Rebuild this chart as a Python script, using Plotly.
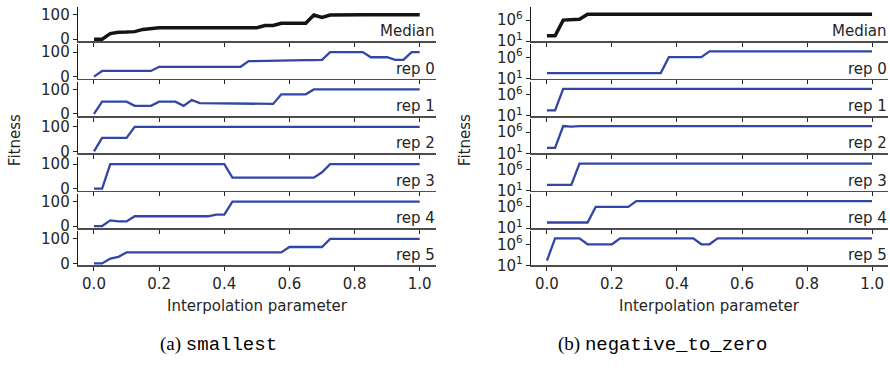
import plotly.graph_objects as go

# ---------------- data ----------------
interp = [0.0, 0.025, 0.05, 0.075, 0.1, 0.125, 0.15, 0.175, 0.2, 0.225,
          0.25, 0.275, 0.3, 0.325, 0.35, 0.375, 0.4, 0.425, 0.45, 0.475,
          0.5, 0.525, 0.55, 0.575, 0.6, 0.625, 0.65, 0.675, 0.7, 0.725,
          0.75, 0.775, 0.8, 0.825, 0.85, 0.875, 0.9, 0.925, 0.95, 0.975, 1.0]

panel_labels = ["Median", "rep 0", "rep 1", "rep 2", "rep 3", "rep 4", "rep 5"]

# (a) smallest  -- linear fitness
a_median = [0, 0, 23, 28, 29, 31, 40, 44, 47, 47, 47, 47, 47, 47, 47, 47, 47, 47, 47, 47,
            47, 56, 56, 65, 65, 65, 65, 99, 89, 99, 100, 100, 100, 100, 100, 100, 100, 100, 100, 100, 100]
a_rep0 = [0, 23, 23, 23, 23, 23, 23, 23, 40, 40, 40, 40, 40, 40, 40, 40, 40, 40, 40, 63,
          64, 64, 65, 65, 66, 66, 67, 67, 68, 100, 100, 100, 100, 100, 79, 79, 79, 68, 68, 100, 100]
a_rep1 = [0, 50, 50, 50, 50, 33, 33, 33, 50, 50, 50, 33, 57, 44, 44, 44, 43, 43, 43, 43,
          42, 42, 41, 80, 80, 80, 80, 100, 100, 100, 100, 100, 100, 100, 100, 100, 100, 100, 100, 100, 100]
a_rep2 = [0, 55, 55, 55, 55, 100, 100, 100, 100, 100, 100, 100, 100, 100, 100, 100, 100, 100, 100, 100,
          100, 100, 100, 100, 100, 100, 100, 100, 100, 100, 100, 100, 100, 100, 100, 100, 100, 100, 100, 100, 100]
a_rep3 = [0, 0, 100, 100, 100, 100, 100, 100, 100, 100, 100, 100, 100, 100, 100, 100, 100, 45, 45, 45,
          45, 45, 45, 45, 45, 45, 45, 45, 67, 100, 100, 100, 100, 100, 100, 100, 100, 100, 100, 100, 100]
a_rep4 = [0, 0, 23, 19, 19, 40, 40, 40, 40, 40, 40, 40, 40, 40, 40, 47, 47, 100, 100, 100,
          100, 100, 100, 100, 100, 100, 100, 100, 100, 100, 100, 100, 100, 100, 100, 100, 100, 100, 100, 100, 100]
a_rep5 = [0, 0, 20, 27, 45, 45, 45, 45, 45, 45, 45, 45, 45, 45, 45, 45, 45, 45, 45, 45,
          45, 45, 45, 45, 67, 67, 67, 67, 67, 100, 100, 100, 100, 100, 100, 100, 100, 100, 100, 100, 100]

# (b) negative_to_zero -- log fitness
b_median = [200, 200, 1e6, 1e6, 1.6e6, 2.5e7, 2.5e7, 2.5e7, 2.5e7, 2.5e7, 2.5e7, 2.5e7, 2.5e7, 2.5e7,
            2.5e7, 2.5e7, 2.5e7, 2.5e7, 2.5e7, 2.5e7, 2.5e7, 2.5e7, 2.5e7, 2.5e7, 2.5e7, 2.5e7, 2.5e7,
            2.5e7, 2.5e7, 2.5e7, 2.5e7, 2.5e7, 2.5e7, 2.5e7, 2.5e7, 2.5e7, 2.5e7, 2.5e7, 2.5e7, 2.5e7, 2.5e7]
b_rep0 = [200, 200, 200, 200, 200, 200, 200, 200, 200, 200, 200, 200, 200, 200, 200,
          1.2e6, 1.2e6, 1.2e6, 1.2e6, 1.2e6,
          2.9e7, 2.9e7, 2.9e7, 2.9e7, 2.9e7, 2.9e7, 2.9e7, 2.9e7, 2.9e7, 2.9e7, 2.9e7, 2.9e7, 2.9e7,
          2.9e7, 2.9e7, 2.9e7, 2.9e7, 2.9e7, 2.9e7, 2.9e7, 2.9e7]
b_rep1 = [200, 200, 2.5e7, 2.5e7, 2.5e7, 2.5e7, 2.5e7, 2.5e7, 2.5e7, 2.5e7, 2.5e7, 2.5e7, 2.5e7,
          2.5e7, 2.5e7, 2.5e7, 2.5e7, 2.5e7, 2.5e7, 2.5e7, 2.5e7, 2.5e7, 2.5e7, 2.5e7, 2.5e7, 2.5e7,
          2.5e7, 2.5e7, 2.5e7, 2.5e7, 2.5e7, 2.5e7, 2.5e7, 2.5e7, 2.5e7, 2.5e7, 2.5e7, 2.5e7, 2.5e7, 2.5e7, 2.5e7]
b_rep2 = [200, 200, 3e7, 2.2e7, 2.8e7, 2.8e7, 2.8e7, 2.8e7, 2.8e7, 2.8e7, 2.8e7, 2.8e7, 2.8e7,
          2.8e7, 2.8e7, 2.8e7, 2.8e7, 2.8e7, 2.8e7, 2.8e7, 2.8e7, 2.8e7, 2.8e7, 2.8e7, 2.8e7, 2.8e7,
          2.8e7, 2.8e7, 2.8e7, 2.8e7, 2.8e7, 2.8e7, 2.8e7, 2.8e7, 2.8e7, 2.8e7, 2.8e7, 2.8e7, 2.8e7, 2.8e7, 2.8e7]
b_rep3 = [240, 240, 240, 240, 2.5e7, 2.5e7, 2.5e7, 2.5e7, 2.5e7, 2.5e7, 2.5e7, 2.5e7, 2.5e7,
          2.5e7, 2.5e7, 2.5e7, 2.5e7, 2.5e7, 2.5e7, 2.5e7, 2.5e7, 2.5e7, 2.5e7, 2.5e7, 2.5e7, 2.5e7,
          2.5e7, 2.5e7, 2.5e7, 2.5e7, 2.5e7, 2.5e7, 2.5e7, 2.5e7, 2.5e7, 2.5e7, 2.5e7, 2.5e7, 2.5e7, 2.5e7, 2.5e7]
b_rep4 = [200, 200, 200, 200, 200, 200, 1e6, 1e6, 1e6, 1e6, 1e6,
          2.4e7, 2.4e7, 2.4e7, 2.4e7, 2.4e7, 2.4e7, 2.4e7, 2.4e7, 2.4e7, 2.4e7, 2.4e7, 2.4e7, 2.4e7,
          2.4e7, 2.4e7, 2.4e7, 2.4e7, 2.4e7, 2.4e7, 2.4e7, 2.4e7, 2.4e7, 2.4e7, 2.4e7, 2.4e7, 2.4e7,
          2.4e7, 2.4e7, 2.4e7, 2.4e7]
b_rep5 = [140, 2.5e7, 2.5e7, 2.5e7, 2.5e7, 1e6, 1e6, 1e6, 1e6,
          2.5e7, 2.5e7, 2.5e7, 2.5e7, 2.5e7, 2.5e7, 2.5e7, 2.5e7, 2.5e7, 2.5e7, 1e6, 1e6,
          2.5e7, 2.5e7, 2.5e7, 2.5e7, 2.5e7, 2.5e7, 2.5e7, 2.5e7, 2.5e7, 2.5e7, 2.5e7, 2.5e7, 2.5e7,
          2.5e7, 2.5e7, 2.5e7, 2.5e7, 2.5e7, 2.5e7, 2.5e7]

x_ticks = [0.0, 0.2, 0.4, 0.6, 0.8, 1.0]
x_ticktext = ["0.0", "0.2", "0.4", "0.6", "0.8", "1.0"]
a_yticks = [0, 100]
b_yticks = [10, 1e6]
b_yticktext = ["10<sup>1</sup>", "10<sup>6</sup>"]

series_a = [a_median, a_rep0, a_rep1, a_rep2, a_rep3, a_rep4, a_rep5]
series_b = [b_median, b_rep0, b_rep1, b_rep2, b_rep3, b_rep4, b_rep5]

# ---------------- layout geometry ----------------
W, H = 890, 371
FONT = "DejaVu Sans"
FS = 15
TXT = "#262626"
MEDIAN_COLOR = "#141414"
REP_COLOR = "#3346a6"

col_px = [(77.7, 436.0), (530.7, 888.3)]
row_bottom0, row_step, row_h = 41.3, 38.4, 35.0

fig = go.Figure()
layout = dict(
    width=W, height=H, autosize=False,
    margin=dict(l=0, r=0, t=0, b=0),
    paper_bgcolor="white", plot_bgcolor="white",
    showlegend=False, hovermode=False,
    font=dict(family=FONT, size=FS, color=TXT),
)
annotations = []

for c, (series, is_log) in enumerate([(series_a, False), (series_b, True)]):
    x0, x1 = col_px[c]
    for r in range(7):
        k = c * 7 + r + 1
        xn = "x" if k == 1 else f"x{k}"
        yn = "y" if k == 1 else f"y{k}"
        bot = row_bottom0 + row_step * r
        top = bot - row_h
        fig.add_trace(go.Scatter(
            x=interp, y=series[r], mode="lines",
            line=dict(color=MEDIAN_COLOR if r == 0 else REP_COLOR,
                      width=3.5 if r == 0 else 2.3),
            xaxis=xn, yaxis=yn, hoverinfo="skip",
        ))
        last = (r == 6)
        layout[f"xaxis{'' if k == 1 else k}"] = dict(
            domain=[x0 / W, x1 / W], anchor=yn, range=[-0.05, 1.05],
            showgrid=False, zeroline=False,
            showline=True, linecolor="#4d4d4d", linewidth=1.6,
            ticks="outside", ticklen=4, tickwidth=1, tickcolor="#262626",
            tickvals=x_ticks, ticktext=x_ticktext,
            showticklabels=last, fixedrange=True,
            tickfont=dict(family=FONT, size=FS, color=TXT),
        )
        ycfg = dict(
            domain=[1 - bot / H, 1 - top / H], anchor=xn,
            showgrid=False, zeroline=False,
            showline=True, linecolor="#1a1a1a", linewidth=1,
            ticks="outside", ticklen=4, tickwidth=1, tickcolor="#262626",
            fixedrange=True,
            tickfont=dict(family=FONT, size=FS, color=TXT),
        )
        if is_log:
            ycfg.update(type="log", range=[1.0, 9.08], tickvals=b_yticks, ticktext=b_yticktext)
        else:
            ycfg.update(range=[-8, 131], tickvals=a_yticks, ticktext=[str(v) for v in a_yticks])
        layout[f"yaxis{'' if k == 1 else k}"] = ycfg

        annotations.append(dict(
            text=panel_labels[r], xref=f"{xn} domain", yref=f"{yn} domain",
            x=1, y=0, xanchor="right", yanchor="bottom", showarrow=False,
            font=dict(family=FONT, size=FS, color=TXT), borderpad=0,
        ))

# axis titles and captions
for cx_fit, cx_axis, cap_x, cap in [
    (15, 257, 218, '(a) <span style="font-family:Liberation Mono">smallest</span>'),
    (465, 709, 662, '(b) <span style="font-family:Liberation Mono">negative_to_zero</span>'),
]:
    annotations.append(dict(text="Fitness", textangle=-90, xref="paper", yref="paper",
                            x=cx_fit / W, y=1 - 143 / H, xanchor="center", yanchor="middle",
                            showarrow=False, font=dict(family=FONT, size=FS, color=TXT)))
    annotations.append(dict(text="Interpolation parameter", xref="paper", yref="paper",
                            x=cx_axis / W, y=1 - 313 / H, xanchor="center", yanchor="middle",
                            showarrow=False, font=dict(family=FONT, size=FS, color=TXT)))
    annotations.append(dict(text=cap, xref="paper", yref="paper",
                            x=cap_x / W, y=1 - 353 / H, xanchor="center", yanchor="middle",
                            showarrow=False, font=dict(family="Liberation Serif", size=19, color="#000")))

layout["annotations"] = annotations
fig.update_layout(**layout)
fig.write_html("out.html",
               config={"displayModeBar": False, "staticPlot": True},
               post_script="document.body.style.margin='0';document.body.style.overflow='hidden';")
